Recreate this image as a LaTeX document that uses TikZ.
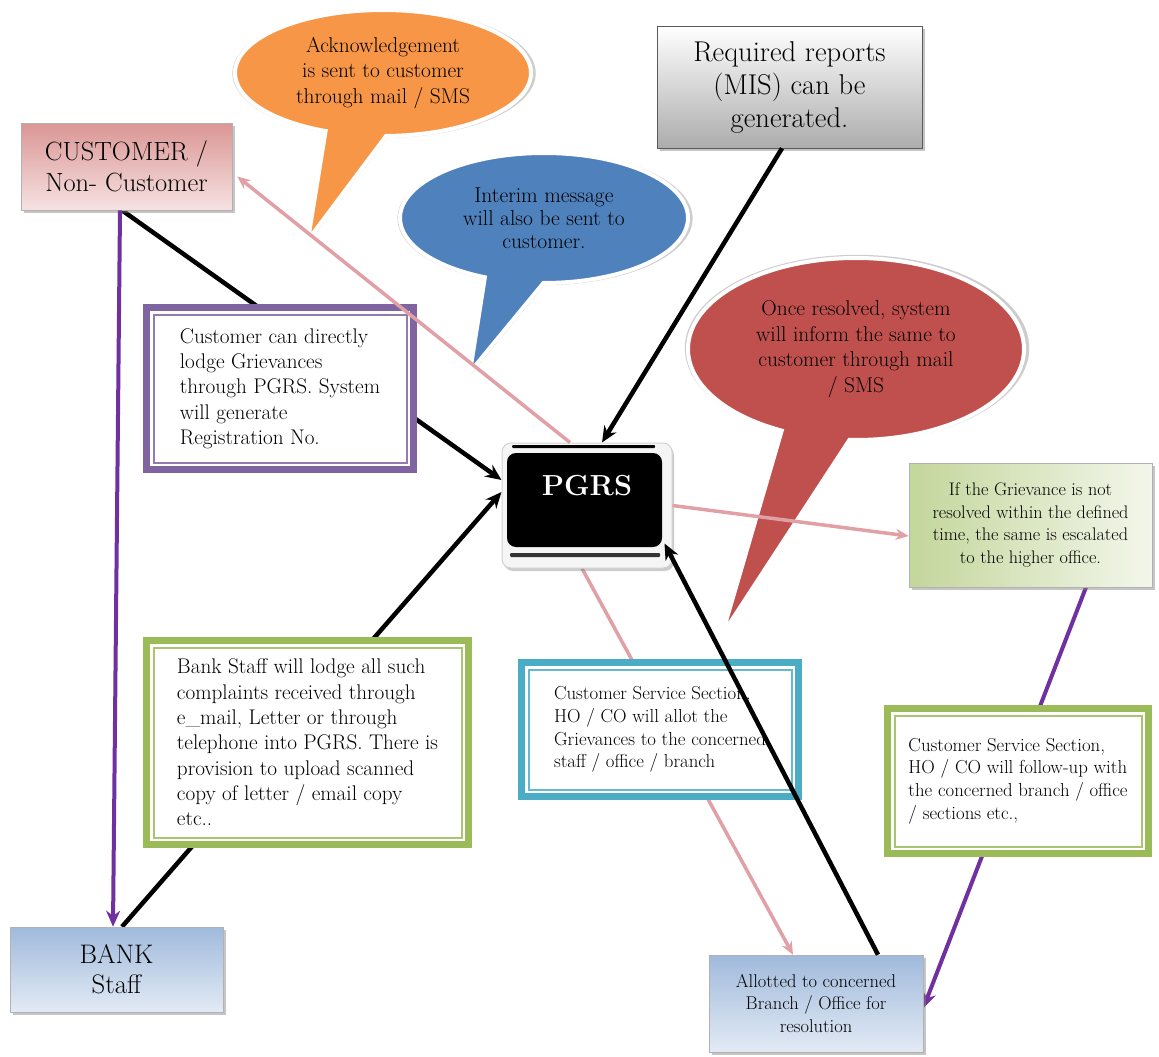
\documentclass[tikz,border=0pt]{standalone}
\usepackage{fontspec}
\usetikzlibrary{calc,shapes.geometric,shapes.callouts,shadows,arrows.meta}
\pgfdeclarelayer{background}
\pgfsetlayers{background,main}

\definecolor{ackorange}{RGB}{247,150,70}
\definecolor{msgblue}{RGB}{79,129,189}
\definecolor{resred}{RGB}{192,80,77}
\definecolor{framepurple}{RGB}{128,100,162}
\definecolor{framegreen}{RGB}{155,187,89}
\definecolor{frameteal}{RGB}{75,172,198}
\definecolor{linepink}{RGB}{224,160,165}
\definecolor{linepurple}{RGB}{112,48,160}
\definecolor{custtop}{RGB}{218,150,148}
\definecolor{custbot}{RGB}{246,226,226}
\definecolor{escgreen}{RGB}{195,214,155}
\definecolor{staffblue}{RGB}{160,186,220}

\tikzset{
  shadebox/.style = {shape=rectangle, draw=gray!60, line width=0.6pt,
                     align=center, inner sep=0pt,
                     drop shadow={shadow xshift=3pt, shadow yshift=-3pt, opacity=0.45}},
  custbox/.style  = {shadebox, top color=custtop, bottom color=custbot,
                     font=\fontsize{26.4}{31}\selectfont},
  misbox/.style   = {shadebox, top color=white, bottom color=gray!65,
                     draw=gray!70!black, font=\fontsize{28.6}{33}\selectfont},
  escbox/.style   = {shadebox, left color=escgreen, right color=escgreen!20,
                     font=\fontsize{18.2}{22.5}\selectfont},
  bluebox/.style  = {shadebox, top color=staffblue, bottom color=staffblue!30},
  dframe/.style   = {shape=rectangle, draw=#1, line width=7pt, fill=white,
                     align=left, inner sep=0pt,
                     path picture={\draw[#1!85, line width=2pt]
                       ([xshift=7pt,yshift=-7pt]path picture bounding box.north west) rectangle
                       ([xshift=-7pt,yshift=7pt]path picture bounding box.south east);}},
  bubble/.style   = {ellipse callout, draw=white, line width=4pt, fill=#1,
                     callout pointer arc=24, inner sep=0pt, align=center,
                     general shadow={fill=gray!55, shadow scale=1.025, shadow xshift=1pt,
                                     shadow yshift=-1.5pt, opacity=0.7},
                     font=\fontsize{21.4}{25.5}\selectfont},
  pgrsbox/.style  = {shape=rectangle, rounded corners=9pt, draw=gray!35, line width=1pt,
                     fill=gray!8, inner sep=0pt, text=white,
                     font=\fontsize{29}{29}\selectfont\bfseries, text height=22pt, text depth=43pt,
                     drop shadow={shadow xshift=2pt, shadow yshift=-3pt, opacity=0.4},
                     path picture={
                       \fill[black] ([xshift=5pt,yshift=-10pt]path picture bounding box.north west) rectangle
                         ([xshift=-10pt,yshift=21pt]path picture bounding box.south east);
                       \fill[black, rounded corners=1pt] ([xshift=10pt,yshift=-2pt]path picture bounding box.north west) rectangle
                         ([xshift=-17pt,yshift=-5pt]path picture bounding box.north east);
                       \fill[black!80, rounded corners=1pt] ([xshift=8pt,yshift=15pt]path picture bounding box.south west) rectangle
                         ([xshift=-12pt,yshift=11pt]path picture bounding box.south east);}},
  blackline/.style  = {line width=4.5pt, black},
  purpleline/.style = {line width=4pt, linepurple},
  pinkline/.style   = {line width=3.5pt, linepink, -{Stealth[length=13pt,width=11pt]}}
}
\newcommand{\boxtext}{\fontsize{21.2}{25.3}\selectfont}
\newcommand{\smalltext}{\fontsize{18.8}{22.7}\selectfont}

\begin{document}
\begin{tikzpicture}[x=1pt, y=-1pt, ->, >={Stealth[length=16pt,width=14pt]}]
\begin{pgfonlayer}{background}
  \fill[white] (0,0) rectangle (1159,1057);
\end{pgfonlayer}
\useasboundingbox (0,0) rectangle (1159,1057);

% boxes
\node [custbox, minimum width=211pt, minimum height=87pt] (cust) at (126.5,166.5) {CUSTOMER /\\Non- Customer};
\node [misbox, minimum width=265pt, minimum height=122pt] (mis) at (789.5,87) {Required reports\\(MIS) can be\\generated.};
\node [dframe=framepurple, minimum width=267pt, minimum height=162pt, font=\boxtext] (direct) at (280,388.5)
  {Customer can directly\\lodge Grievances\\through PGRS. System\\will generate\\Registration No.};
\node [pgrsbox, minimum width=170pt, minimum height=125pt] (pgrs) at (587,505.5) {PGRS};
\node [escbox, minimum width=243pt, minimum height=124pt] (escal) at (1030.5,525)
  {If the Grievance is not\\resolved within the defined\\time, the same is escalated\\to the higher office.};
\node [dframe=framegreen, minimum width=322pt, minimum height=204pt, font=\boxtext] (staff) at (307.5,742.5)
  {Bank Staff will lodge all such\\complaints received through\\e\_mail, Letter or through\\telephone into PGRS. There is\\provision to upload scanned\\copy of letter / email copy\\etc..};
\node [dframe=frameteal, minimum width=277pt, minimum height=134pt, font=\smalltext] (allot) at (660,729.5)
  {Customer Service Section,\\HO / CO will allot the\\Grievances to the concerned\\staff / office / branch};
\node [dframe=framegreen, minimum width=261pt, minimum height=145pt, font=\smalltext] (follow) at (1018,781)
  {Customer Service Section,\\HO / CO will follow-up with\\the concerned branch / office\\/ sections etc.,};
\node [bluebox, minimum width=213pt, minimum height=85pt, font=\fontsize{26.8}{30}\selectfont] (bank) at (116.5,969.5) {BANK\\Staff};
\node [bluebox, minimum width=214pt, minimum height=97pt, font=\fontsize{18.5}{22.5}\selectfont] (branch) at (816,1003.5)
  {Allotted to concerned\\Branch / Office for\\resolution};

% speech bubbles
\coordinate (acktip) at (308,240);
\coordinate (msgtip) at (470,372);
\coordinate (restip) at (722,635);
\node [bubble=ackorange, minimum width=296pt, minimum height=126pt, callout absolute pointer=(acktip)] (ack) at (383,73)
  {Acknowledgement\\is sent to customer\\through mail / SMS};
\node [bubble=msgblue, minimum width=288pt, minimum height=130pt, callout absolute pointer=(msgtip),
       font=\fontsize{21.5}{23}\selectfont] (msg) at (544,218)
  {Interim message\\will also be sent to\\customer.};
\node [bubble=resred, minimum width=336pt, minimum height=182pt, callout absolute pointer=(restip)] (res) at (856,349)
  {Once resolved, system\\will inform the same to\\customer through mail\\/ SMS};

% connectors running behind the boxes
\begin{pgfonlayer}{background}
  \draw [blackline] ([xshift=-4.5pt]cust.south) -- ([yshift=25.5pt]pgrs.west);
  \draw [blackline] ([xshift=5.5pt]bank.north) -- ([yshift=13.5pt]pgrs.west);
  \draw [purpleline] ([xshift=55.5pt]escal.south) -- ([yshift=-4.5pt]branch.east);
  \draw [pinkline] ([xshift=-5pt]pgrs.south) -- ([xshift=-23pt]branch.north);
\end{pgfonlayer}

\draw [purpleline] ([xshift=-6.5pt]cust.south) -- ([xshift=-3.5pt]bank.north);
\draw [blackline] ([xshift=-7.5pt]mis.south) -- ([xshift=15pt]pgrs.north);
\draw [pinkline] ([xshift=-17pt]pgrs.north) -- ([xshift=5pt,yshift=-10pt]cust.east);
\draw [pinkline] (pgrs.east) -- ([yshift=-11pt]escal.west);
\draw [blackline] ([xshift=62pt]branch.north) -- ([xshift=-8pt,yshift=-38pt]pgrs.east);
\end{tikzpicture}
\end{document}
